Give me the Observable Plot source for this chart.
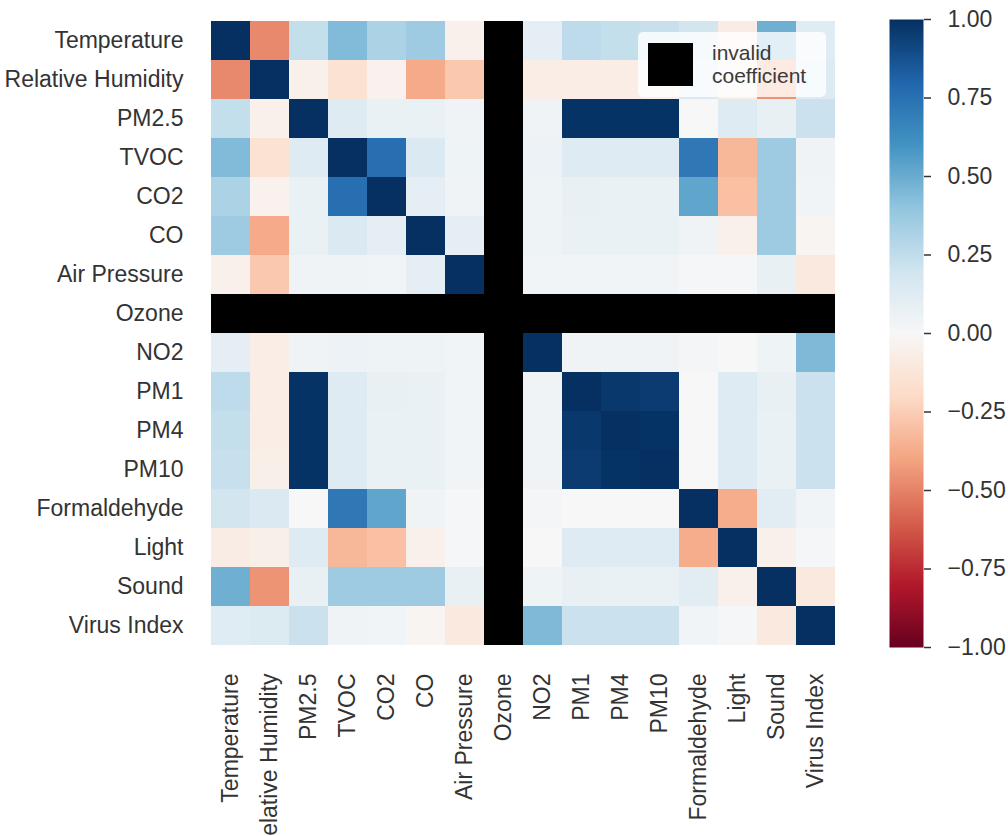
<!DOCTYPE html>
<html>
<head>
<meta charset="utf-8">
<script src="https://cdn.jsdelivr.net/npm/d3@7"></script>
<script src="https://cdn.jsdelivr.net/npm/@observablehq/plot@0.6"></script>
<style>
  html, body { margin: 0; padding: 0; background: white; }
  #wrap { position: relative; width: 1008px; height: 836px; overflow: hidden; font-family: "Liberation Sans", Arial, sans-serif; }
  #main { position: absolute; left: 0; top: 0; }
  #cbar { position: absolute; left: 850px; top: 0; }
  #legend { position: absolute; left: 638px; top: 32px; width: 188px; height: 65px; background: rgba(255,255,255,0.8); border-radius: 5px; }
  #legend .sw { position: absolute; left: 10px; top: 11px; width: 45px; height: 43px; background: black; }
  #legend .txt { position: absolute; left: 74px; top: 9px; font-size: 21px; line-height: 23px; color: #3a3a3a; }
</style>
</head>
<body>
<div id="wrap">
  <div id="main"></div>
  <div id="cbar"></div>
  <div id="legend"><div class="sw"></div><div class="txt">invalid<br>coefficient</div></div>
</div>
<script>
const variables = ["Temperature", "Relative Humidity", "PM2.5", "TVOC", "CO2", "CO", "Air Pressure", "Ozone", "NO2", "PM1", "PM4", "PM10", "Formaldehyde", "Light", "Sound", "Virus Index"];

// correlation rows (null = invalid coefficient)
const rowTemperature  = [1, -0.48, 0.24, 0.44, 0.32, 0.36, -0.05, null, 0.10, 0.26, 0.24, 0.23, 0.19, -0.08, 0.49, 0.12];
const rowHumidity     = [-0.48, 1, -0.05, -0.15, -0.04, -0.38, -0.27, null, -0.07, -0.07, -0.07, -0.06, 0.15, -0.06, -0.45, 0.14];
const rowPM25         = [0.24, -0.05, 1, 0.13, 0.07, 0.07, 0.04, null, 0.04, 0.99, 0.99, 0.99, 0.0, 0.13, 0.08, 0.22];
const rowTVOC         = [0.44, -0.15, 0.13, 1, 0.76, 0.15, 0.05, null, 0.06, 0.13, 0.13, 0.13, 0.72, -0.33, 0.36, 0.04];
const rowCO2          = [0.32, -0.04, 0.07, 0.76, 1, 0.10, 0.04, null, 0.05, 0.08, 0.07, 0.07, 0.53, -0.30, 0.36, 0.03];
const rowCO           = [0.36, -0.38, 0.07, 0.15, 0.10, 1, 0.10, null, 0.05, 0.07, 0.07, 0.07, 0.04, -0.05, 0.36, -0.02];
const rowAirPressure  = [-0.05, -0.27, 0.04, 0.04, 0.03, 0.10, 1, null, 0.03, 0.03, 0.03, 0.03, 0.01, 0.01, 0.08, -0.10];
const rowOzone        = [null, null, null, null, null, null, null, null, null, null, null, null, null, null, null, null];
const rowNO2          = [0.10, -0.07, 0.04, 0.06, 0.05, 0.05, 0.03, null, 1, 0.04, 0.04, 0.04, 0.02, 0.0, 0.05, 0.45];
const rowPM1          = [0.26, -0.07, 0.99, 0.13, 0.08, 0.07, 0.03, null, 0.04, 1, 0.97, 0.96, 0.0, 0.13, 0.08, 0.22];
const rowPM4          = [0.24, -0.07, 0.99, 0.13, 0.07, 0.07, 0.03, null, 0.04, 0.97, 1, 0.99, 0.0, 0.13, 0.07, 0.22];
const rowPM10         = [0.23, -0.06, 0.99, 0.13, 0.07, 0.07, 0.03, null, 0.04, 0.96, 0.99, 1, 0.0, 0.13, 0.07, 0.22];
const rowFormaldehyde = [0.19, 0.15, 0.0, 0.72, 0.53, 0.04, 0.01, null, 0.02, 0.0, 0.0, 0.0, 1, -0.37, 0.11, 0.03];
const rowLight        = [-0.08, -0.06, 0.13, -0.33, -0.30, -0.05, 0.01, null, 0.0, 0.13, 0.13, 0.13, -0.37, 1, -0.05, 0.01];
const rowSound        = [0.49, -0.45, 0.08, 0.36, 0.36, 0.36, 0.08, null, 0.05, 0.08, 0.07, 0.07, 0.11, -0.05, 1, -0.10];
const rowVirus        = [0.12, 0.14, 0.22, 0.04, 0.03, -0.02, -0.10, null, 0.45, 0.22, 0.22, 0.22, 0.03, 0.01, -0.10, 1];

const colorbarTicks = [-1, -0.75, -0.5, -0.25, 0, 0.25, 0.5, 0.75, 1];

const rows = [rowTemperature, rowHumidity, rowPM25, rowTVOC, rowCO2, rowCO, rowAirPressure, rowOzone,
              rowNO2, rowPM1, rowPM4, rowPM10, rowFormaldehyde, rowLight, rowSound, rowVirus];

const table = [];
rows.forEach((r, i) => r.forEach((v, j) => table.push({row: variables[i], col: variables[j], value: v})));

// matplotlib RdBu_r stops
const rdbu = ["#67001f", "#b2182b", "#d6604d", "#f4a582", "#fddbc7", "#f7f7f7", "#d1e5f0", "#92c5de", "#4393c3", "#2166ac", "#053061"];
const colorScale = {type: "linear", domain: d3.range(11).map(i => -1 + i * 0.2), range: rdbu, interpolate: "rgb"};

const FONT = "Liberation Sans, Arial, sans-serif";
const ink = "#333333";

const main = Plot.plot({
  width: 850, height: 836,
  marginLeft: 207, marginRight: 12, marginTop: 19, marginBottom: 189,
  style: {fontFamily: FONT, color: ink, background: "white", overflow: "hidden"},
  x: {domain: variables, padding: 0, label: null},
  y: {domain: variables, padding: 0, label: null},
  color: colorScale,
  marks: [
    Plot.cell(table.filter(d => d.value == null), {x: "col", y: "row", fill: "black", inset: 0, shapeRendering: "crispEdges"}),
    Plot.cell(table.filter(d => d.value != null), {x: "col", y: "row", fill: "value", inset: 0, shapeRendering: "crispEdges"}),
    Plot.axisY({tickSize: 0, tickPadding: 24, fontSize: 23, label: null}),
    Plot.axisX({tickSize: 0, tickPadding: 26, fontSize: 23, tickRotate: -90, label: null})
  ]
});
document.getElementById("main").appendChild(main);

const cbar = Plot.plot({
  width: 158, height: 836,
  marginLeft: 39, marginRight: 85, marginTop: 19, marginBottom: 189,
  style: {fontFamily: FONT, color: ink, background: "transparent"},
  x: {domain: [0, 1], axis: null},
  y: {domain: [-1, 1], label: null},
  color: colorScale,
  marks: [
    Plot.raster({x1: 0, x2: 1, y1: -1, y2: 1, fill: (x, y) => y, pixelSize: 1}),
    Plot.axisY({anchor: "right", ticks: colorbarTicks, tickFormat: d3.format(".2f"), tickSize: 7, tickPadding: 17, fontSize: 23, strokeWidth: 1.5, label: null})
  ]
});
document.getElementById("cbar").appendChild(cbar);
</script>
</body>
</html>
